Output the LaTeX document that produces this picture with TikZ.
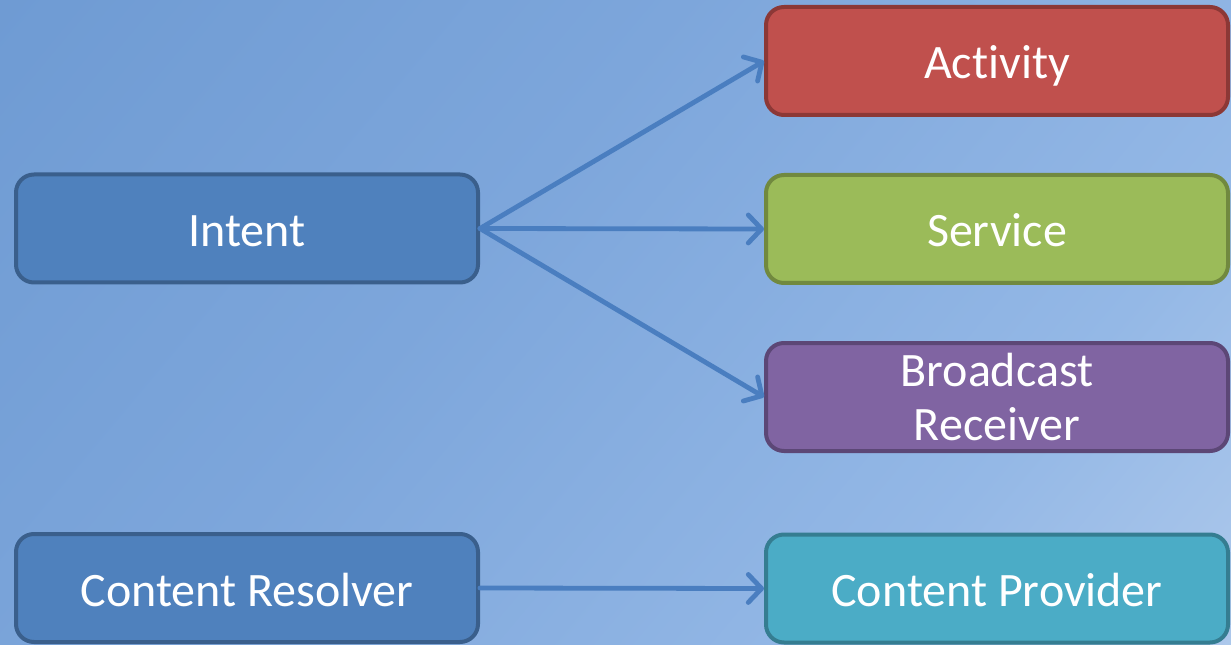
\documentclass[tikz,border=0pt]{standalone}
\usepackage{fontspec}
\setmainfont[Ligatures=NoCommon]{Carlito}
\usetikzlibrary{arrows.meta}
\definecolor{bgA}{HTML}{6795CF}
\definecolor{bgB}{HTML}{7DA6DB}
\definecolor{bgC}{HTML}{94B8E6}
\definecolor{bgD}{HTML}{C4D7F0}
\definecolor{blueF}{HTML}{4F81BD}
\definecolor{blueD}{HTML}{3A5F8C}
\definecolor{redF}{HTML}{C0504D}
\definecolor{redD}{HTML}{8C3836}
\definecolor{greenF}{HTML}{9BBB59}
\definecolor{greenD}{HTML}{71893F}
\definecolor{purpF}{HTML}{8064A2}
\definecolor{purpD}{HTML}{5C4776}
\definecolor{cyanF}{HTML}{4BACC6}
\definecolor{cyanD}{HTML}{357D91}
\definecolor{arrowC}{HTML}{4A7EC0}
\pgfdeclarehorizontalshading{bgshade}{100bp}{color(0bp)=(bgA); color(42bp)=(bgB); color(70bp)=(bgC); color(100bp)=(bgD)}
\tikzset{
  box/.style={rounded corners=18*0.75pt, line width=3pt, minimum width=462*0.75pt,
    minimum height=108*0.75pt, inner sep=0pt, text=white, align=center,
    font=\fontsize{36}{41}\selectfont},
  one/.style={text height=27pt, text depth=0pt},
  conn/.style={draw=arrowC, line width=3.6pt, line cap=round,
    -{Straight Barb[length=10pt, width=21pt, line width=3.6pt, round]}},
}
\begin{document}
\begin{tikzpicture}[x=0.75pt, y=-0.75pt]
\shade[shading=bgshade, shading angle=-40] (0,0) rectangle (1231,645);
\useasboundingbox (0,0) rectangle (1231,645);
\node[box, one, fill=blueF, draw=blueD] (intent) at (247,228.5) {Intent};
\node[box, one, fill=redF, draw=redD] (activity) at (997,61) {Activity};
\node[box, one, fill=greenF, draw=greenD] (service) at (997,229) {Service};
\node[box, fill=purpF, draw=purpD] (broadcast) at (997,397) {Broadcast\\Receiver};
\node[box, one, fill=blueF, draw=blueD] (resolver) at (247,588) {Content Resolver};
\node[box, one, fill=cyanF, draw=cyanD] (provider) at (997,588.5) {Content Provider};
\draw[conn] (intent.east) -- (activity.west);
\draw[conn] (intent.east) -- (service.west);
\draw[conn] (intent.east) -- (broadcast.west);
\draw[conn] (resolver.east) -- (provider.west);
\end{tikzpicture}
\end{document}
